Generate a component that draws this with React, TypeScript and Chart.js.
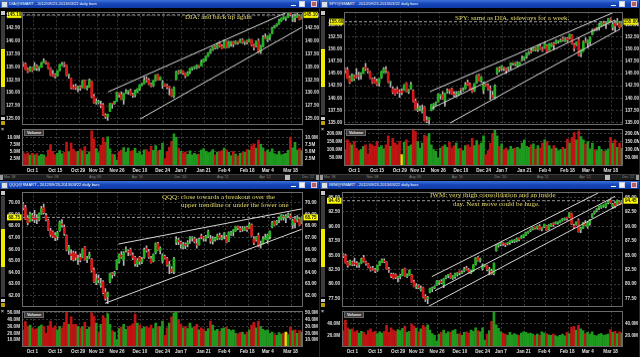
import React, { useEffect, useRef } from "react";
import { Chart, registerables } from "chart.js";

Chart.register(...registerables);

// ---------- categories (trading days) ----------
const DATES = [
  "2012-09-24","2012-09-25","2012-09-26","2012-09-27","2012-09-28",
  "2012-10-01","2012-10-02","2012-10-03","2012-10-04","2012-10-05",
  "2012-10-08","2012-10-09","2012-10-10","2012-10-11","2012-10-12",
  "2012-10-15","2012-10-16","2012-10-17","2012-10-18","2012-10-19",
  "2012-10-22","2012-10-23","2012-10-24","2012-10-25","2012-10-26",
  "2012-10-31","2012-11-01","2012-11-02",
  "2012-11-05","2012-11-06","2012-11-07","2012-11-08","2012-11-09",
  "2012-11-12","2012-11-13","2012-11-14","2012-11-15","2012-11-16",
  "2012-11-19","2012-11-20","2012-11-21","2012-11-23",
  "2012-11-26","2012-11-27","2012-11-28","2012-11-29","2012-11-30",
  "2012-12-03","2012-12-04","2012-12-05","2012-12-06","2012-12-07",
  "2012-12-10","2012-12-11","2012-12-12","2012-12-13","2012-12-14",
  "2012-12-17","2012-12-18","2012-12-19","2012-12-20","2012-12-21",
  "2012-12-24","2012-12-26","2012-12-27","2012-12-28",
  "2012-12-31","2013-01-02","2013-01-03","2013-01-04",
  "2013-01-07","2013-01-08","2013-01-09","2013-01-10","2013-01-11",
  "2013-01-14","2013-01-15","2013-01-16","2013-01-17","2013-01-18",
  "2013-01-22","2013-01-23","2013-01-24","2013-01-25",
  "2013-01-28","2013-01-29","2013-01-30","2013-01-31","2013-02-01",
  "2013-02-04","2013-02-05","2013-02-06","2013-02-07","2013-02-08",
  "2013-02-11","2013-02-12","2013-02-13","2013-02-14","2013-02-15",
  "2013-02-19","2013-02-20","2013-02-21","2013-02-22",
  "2013-02-25","2013-02-26","2013-02-27","2013-02-28","2013-03-01",
  "2013-03-04","2013-03-05","2013-03-06","2013-03-07","2013-03-08",
  "2013-03-11","2013-03-12","2013-03-13","2013-03-14","2013-03-15",
  "2013-03-18","2013-03-19","2013-03-20","2013-03-21","2013-03-22"
];

const TICK_DATES = ["2012-10-01","2012-10-15","2012-10-29","2012-11-12","2012-11-26","2012-12-10","2012-12-24","2013-01-07","2013-01-21","2013-02-04","2013-02-18","2013-03-04","2013-03-18"];
const TICK_LABELS = ["Oct 1","Oct 15","Oct 29","Nov 12","Nov 26","Dec 10","Dec 24","Jan 7","Jan 21","Feb 4","Feb 18","Mar 4","Mar 18"];
const SCROLL_LABELS = ["Mar '08","Nov '08","Aug '09","Apr '10","Dec '10","Aug '11","Apr '12","Dec '12"];

// ---------- DIA ----------
const DIA_OPEN = [135.62,135.60,134.58,134.20,134.80,134.45,135.20,134.80,135.00,135.80,136.00,135.80,134.70,133.60,133.30,133.35,134.30,135.45,135.55,135.40,133.40,132.80,131.10,131.05,130.95,131.15,131.00,132.40,130.90,131.15,132.20,129.35,128.10,128.15,127.70,127.70,125.70,125.40,126.40,127.90,127.90,128.40,129.95,129.70,128.70,130.00,130.25,130.45,129.70,129.55,130.30,130.80,131.55,131.75,132.55,132.50,131.70,131.40,132.40,133.50,132.55,131.50,131.75,131.40,131.10,130.60,129.35,132.60,134.05,133.95,134.25,133.80,133.35,134.00,134.70,134.85,134.90,135.25,135.20,136.00,136.45,137.15,137.80,138.30,138.90,138.75,139.50,139.05,138.70,139.95,138.85,139.60,139.85,139.50,139.90,139.75,140.25,139.70,139.85,139.85,140.30,139.20,139.00,140.10,137.95,138.95,140.70,140.40,140.75,141.45,142.65,142.95,143.35,143.90,144.45,144.45,144.60,145.35,144.20,144.55,144.65,144.90,144.35];
const DIA_HIGH = [135.92,135.85,134.80,135.10,134.95,135.90,135.45,135.15,135.95,136.60,136.15,135.90,134.80,134.35,133.75,134.30,135.55,135.95,135.95,135.45,133.70,132.85,131.60,131.70,131.35,131.40,132.45,132.50,131.40,132.70,132.25,129.75,128.90,128.60,128.40,128.00,126.00,125.95,128.00,128.00,128.40,130.15,130.05,130.20,129.95,130.65,130.40,130.75,130.00,130.55,130.85,131.65,131.90,133.05,133.15,132.80,131.95,132.45,133.55,133.65,133.15,132.35,131.80,131.70,131.30,130.70,131.20,134.20,134.35,134.40,134.30,133.90,134.10,134.75,134.95,135.15,135.45,135.35,136.35,136.55,137.15,137.85,138.50,139.00,139.15,139.65,139.85,139.35,140.25,140.00,140.05,139.95,140.00,140.10,140.00,140.40,140.50,140.05,140.20,140.40,140.35,139.45,140.05,140.45,139.25,141.10,141.45,141.05,141.40,142.70,143.05,143.40,144.25,144.50,144.75,144.70,145.50,145.45,145.20,145.30,145.55,145.10,145.15];
const DIA_LOW = [135.25,134.50,133.90,134.15,134.10,134.40,134.35,134.30,134.95,135.80,135.55,134.65,133.35,133.20,132.90,133.25,134.30,135.30,135.10,133.30,132.85,130.80,130.70,130.65,130.20,130.50,131.00,130.85,130.60,131.10,129.10,128.00,127.80,127.85,127.15,125.60,125.10,124.70,126.40,127.05,127.80,128.40,129.20,128.70,127.80,129.85,129.75,129.60,129.15,129.25,130.05,130.50,131.35,131.75,132.10,131.55,131.20,131.25,132.30,132.45,132.45,130.90,131.30,130.80,129.60,129.30,129.10,132.55,133.65,133.75,133.55,132.95,133.35,133.70,134.40,134.65,134.70,134.90,135.20,135.90,136.20,137.05,137.65,138.20,138.50,138.55,138.90,138.55,138.70,138.70,138.80,139.05,138.95,139.40,139.40,139.70,139.55,139.35,139.45,139.80,139.10,138.30,138.90,137.80,137.60,138.90,140.50,139.90,140.30,141.45,142.60,142.90,143.30,143.80,144.20,144.00,144.60,144.90,143.80,143.75,144.60,144.10,144.30];
const DIA_CLOSE = [135.58,134.57,134.13,134.85,134.37,135.15,134.82,134.95,135.75,136.10,135.83,134.73,133.45,133.26,133.29,134.24,135.51,135.57,135.48,133.43,133.46,131.03,130.77,131.04,131.07,130.96,132.32,130.93,131.12,132.45,129.32,128.11,128.15,128.15,127.56,125.70,125.42,125.88,127.95,127.88,128.36,130.10,129.67,128.78,129.85,130.22,130.25,129.66,129.51,130.34,130.74,131.55,131.70,132.48,132.45,131.70,131.35,132.35,133.51,132.51,133.11,131.90,131.39,131.14,130.96,129.38,131.04,134.12,133.91,134.35,133.85,133.29,133.90,134.71,134.88,135.07,135.35,135.11,135.96,136.50,137.12,137.79,138.25,138.95,138.81,139.54,139.10,138.60,140.09,138.80,139.79,139.86,139.44,139.93,139.71,140.18,139.82,139.73,139.81,140.35,139.27,138.80,140.00,137.84,139.00,140.75,140.54,140.90,141.28,142.54,142.96,143.29,143.97,144.48,144.50,144.55,145.39,145.15,144.53,144.56,145.12,144.21,145.10];
const DIA_VOLUME = [5.0,4.2,4.6,3.8,4.5,3.9,4.4,3.6,4.1,3.9,3.2,5.6,7.5,5.2,4.0,4.5,5.4,4.3,4.8,8.4,5.1,8.1,5.9,4.9,5.2,6.0,5.3,6.8,4.1,5.0,12.4,9.6,6.1,4.7,7.3,9.9,8.4,10.3,6.0,4.2,4.0,2.1,4.9,5.6,6.5,4.8,6.3,5.2,5.4,6.2,4.5,5.1,3.9,5.7,5.8,5.0,6.9,5.5,7.2,5.3,5.6,8.1,2.6,4.9,6.6,8.7,11.3,10.1,6.3,5.2,4.6,4.9,4.1,5.3,3.9,4.5,4.0,4.2,5.6,6.1,5.2,4.7,4.9,5.8,3.9,4.9,5.0,5.4,6.3,5.7,4.8,3.7,5.1,4.2,3.6,4.5,4.7,4.9,5.8,5.5,7.1,7.8,6.3,9.1,7.6,6.4,5.1,5.7,4.8,6.0,4.4,4.0,5.2,3.9,4.2,4.5,5.5,10.2,6.4,8.3,5.6,6.1,5.4];
const DIA_PRICE_TICKS = [125,127.5,130,132.5,135,137.5,140,142.5,145];
const DIA_VOLUME_TICKS = [2.5,5,7.5,10];
const DIA_TRENDS = [[37.2,130.2,115.5,145.6],[51.2,124.95,122.0,142.7]];

// ---------- SPY ----------
const SPY_OPEN = [145.95,145.75,144.20,143.50,144.40,144.60,144.50,144.70,145.10,146.30,145.60,145.30,143.90,143.85,143.40,143.00,144.20,145.30,145.70,145.30,143.10,141.90,141.70,141.80,141.20,141.50,141.60,143.10,141.30,141.90,141.50,139.40,137.60,137.90,137.20,138.10,135.50,135.60,137.50,138.50,138.80,139.20,140.50,140.70,139.40,141.30,141.60,141.90,140.80,140.70,140.80,141.80,141.55,141.90,143.20,142.80,141.80,141.40,143.10,144.60,143.50,141.60,142.60,142.60,141.80,140.60,140.20,145.10,146.00,146.00,146.20,145.90,146.00,146.60,147.00,147.00,146.60,146.90,147.80,148.00,148.50,149.10,149.40,149.70,150.10,149.80,150.60,150.00,150.30,150.70,149.80,150.60,151.10,151.20,151.50,151.50,152.20,151.60,152.20,152.30,152.90,150.90,150.90,152.00,149.10,149.60,151.50,151.20,151.50,153.00,154.10,154.10,154.60,154.90,155.30,155.10,155.50,156.10,154.40,155.30,155.40,155.30,154.70];
const SPY_HIGH = [146.10,146.30,144.50,144.95,144.70,146.00,145.30,145.20,146.20,147.10,146.00,145.45,144.10,144.30,143.90,144.00,145.50,146.20,146.45,145.40,143.45,142.25,141.90,142.20,141.70,141.90,142.75,143.20,141.80,143.25,141.70,139.85,138.90,138.40,138.60,138.30,136.20,136.00,138.70,138.90,139.20,140.90,140.70,141.30,141.00,141.90,141.80,142.05,141.30,141.30,141.40,142.00,142.10,143.20,143.70,143.10,142.10,143.00,144.70,144.90,144.40,143.30,142.90,142.90,142.50,141.40,142.70,146.20,146.40,146.65,146.40,146.10,146.40,147.20,147.20,147.30,147.40,147.30,148.60,148.50,149.20,149.60,150.10,150.30,150.30,150.70,151.00,150.40,151.50,150.90,151.20,151.30,151.40,151.90,151.80,152.10,152.50,152.30,152.40,153.10,153.00,151.20,151.50,152.30,149.80,151.70,152.30,151.90,152.50,154.10,154.20,154.50,155.30,155.60,155.70,155.50,156.30,156.40,155.50,155.80,156.30,155.60,155.70];
const SPY_LOW = [145.20,144.00,142.95,143.40,143.60,144.10,143.75,143.90,145.00,145.65,145.10,143.95,142.95,143.05,142.60,142.45,144.00,145.10,145.20,143.10,142.25,140.90,140.60,140.95,140.10,140.70,141.50,141.25,140.90,141.75,139.20,137.55,137.25,137.40,136.90,135.30,134.95,134.30,137.40,137.70,138.50,139.20,139.75,139.70,138.30,141.00,140.90,140.75,140.30,140.20,140.50,141.00,141.40,141.80,142.60,141.70,141.10,141.30,143.00,143.40,143.20,140.90,142.45,141.60,139.70,140.10,139.80,144.80,145.40,145.60,145.60,145.00,145.60,145.90,146.70,146.60,146.40,146.80,147.60,147.70,148.10,148.90,149.20,149.60,149.60,149.50,149.90,149.50,150.20,149.40,149.70,150.50,149.90,151.10,151.20,151.40,151.60,151.50,151.50,152.10,151.00,149.60,150.70,148.60,148.40,149.50,151.30,150.30,150.90,152.90,153.70,153.80,153.90,154.70,154.90,154.20,155.40,155.60,153.90,153.70,154.90,154.30,154.60];
const SPY_CLOSE = [145.58,144.06,143.23,144.62,143.97,144.35,144.48,145.00,146.04,146.00,145.49,144.05,143.16,143.18,142.76,143.91,145.39,145.99,145.63,143.22,143.28,141.21,140.78,141.20,141.09,141.12,142.66,141.32,141.63,142.74,139.35,137.65,137.89,137.90,137.35,135.45,135.23,135.89,138.59,138.68,139.00,140.82,140.53,139.79,140.89,141.50,141.52,140.85,140.61,140.83,141.29,141.71,141.76,142.68,142.75,141.85,141.26,142.94,144.58,143.48,144.27,142.92,142.57,141.88,141.71,140.14,142.52,146.14,145.84,146.55,146.09,145.62,146.00,147.11,147.11,146.97,147.13,147.16,147.99,148.50,149.16,149.38,149.38,150.20,149.92,150.68,150.10,149.71,151.22,149.47,151.03,151.11,150.84,151.69,151.60,151.84,151.93,152.04,151.88,152.99,151.10,150.14,151.46,148.69,149.59,151.50,151.37,151.72,152.42,153.88,154.05,154.33,155.02,155.52,155.15,155.35,156.22,155.97,155.11,154.73,155.77,154.48,155.60];
const SPY_VOLUME = [100,160,140,130,150,110,95,100,120,130,75,135,130,120,150,115,125,105,130,185,120,170,140,130,150,70,145,160,120,130,230,210,150,110,140,190,180,200,130,100,90,50,110,120,130,115,145,110,125,140,105,110,95,125,130,115,170,125,155,130,140,185,70,95,140,200,225,185,120,135,100,110,95,120,105,110,115,105,140,160,120,115,130,135,105,125,110,140,160,150,125,105,125,110,95,100,115,105,165,140,175,205,160,215,180,160,135,150,105,140,100,95,120,100,90,95,105,175,140,160,115,140,110];
const SPY_PRICE_TICKS = [135,137.5,140,142.5,145,147.5,150,152.5,155];
const SPY_VOLUME_TICKS = [50,100,150,200];
const SPY_TRENDS = [[37.4,141.3,118.3,157.5],[38.2,137.9,119.0,155.95],[46.3,134.9,121.2,154.1]];

// ---------- QQQ ----------
const QQQ_OPEN = [69.90,69.60,68.70,68.40,68.90,68.80,68.70,68.55,69.10,69.60,68.90,68.50,67.60,67.50,67.20,67.10,67.60,68.20,67.90,67.20,65.90,65.60,65.70,65.60,65.10,65.30,65.30,66.20,65.10,65.40,65.10,64.20,63.10,63.50,62.90,63.20,62.30,61.90,63.20,63.90,63.85,64.30,64.90,65.50,65.10,65.90,65.80,66.00,65.50,65.30,64.70,65.30,64.90,65.30,66.10,65.80,65.20,65.00,65.70,66.50,65.90,65.00,65.40,65.20,64.60,64.30,64.10,66.60,66.80,66.60,66.20,66.40,66.45,66.90,66.95,66.90,66.50,66.40,67.10,67.00,66.90,67.10,66.90,66.70,66.85,66.90,67.20,66.90,67.20,67.10,66.70,67.30,67.50,67.60,67.90,67.80,67.70,67.65,67.90,67.85,68.10,66.90,66.80,67.20,66.40,66.50,66.90,66.80,67.10,67.90,68.40,68.20,68.55,68.60,68.80,68.70,68.90,68.90,68.10,68.60,68.50,68.60,68.25];
const QQQ_HIGH = [70.05,69.80,68.90,69.20,69.10,69.35,69.00,69.15,69.70,69.90,69.10,68.60,67.80,67.60,67.45,67.55,68.45,68.55,68.10,67.25,66.35,65.95,65.85,65.80,65.50,65.60,66.05,66.25,65.40,65.75,65.20,64.40,63.85,63.80,63.50,63.30,62.60,62.30,63.95,64.00,64.10,65.10,65.60,65.80,65.80,66.20,65.95,66.10,65.70,65.40,65.20,65.40,65.30,66.10,66.30,66.00,65.40,65.60,66.55,66.60,66.20,65.60,65.50,65.30,64.95,64.50,65.30,67.10,66.95,66.70,66.60,66.55,66.75,67.10,67.10,67.05,66.90,66.95,67.30,67.10,67.20,67.65,67.20,67.10,67.05,67.30,67.40,67.20,67.45,67.20,67.50,67.55,67.70,68.00,68.00,67.95,67.95,67.95,68.00,68.30,68.20,67.10,67.10,67.40,66.70,67.10,67.30,67.30,67.60,68.40,68.45,68.50,68.80,69.00,68.95,69.00,69.15,69.05,68.60,68.85,68.90,68.70,68.80];
const QQQ_LOW = [69.40,68.55,68.10,68.35,68.45,68.30,68.20,68.45,69.00,69.05,68.45,67.60,67.10,67.00,66.75,66.80,67.55,67.90,67.20,65.85,65.55,65.10,65.00,65.05,64.70,64.90,65.25,65.05,64.85,65.20,64.05,63.15,62.95,63.10,62.70,62.15,61.60,61.30,63.10,63.50,63.70,64.25,64.80,65.20,64.60,65.75,65.45,65.50,65.10,64.55,64.50,64.70,64.75,65.20,65.75,65.20,64.80,64.90,65.60,65.90,65.60,64.80,65.15,64.55,63.90,63.95,63.90,66.40,66.40,66.10,66.05,66.05,66.20,66.50,66.70,66.55,66.10,66.35,66.90,66.70,66.70,67.00,66.50,66.45,66.70,66.80,66.85,66.80,66.90,66.55,66.65,67.20,67.15,67.55,67.70,67.50,67.55,67.60,67.55,67.80,67.10,66.40,66.70,66.20,66.10,66.45,66.85,66.50,66.90,67.85,68.05,68.10,68.30,68.50,68.50,68.30,68.75,68.60,67.80,67.85,68.35,68.05,68.20];
const QQQ_CLOSE = [69.55,68.60,68.30,69.05,68.62,68.55,68.60,69.05,69.50,69.15,68.55,67.65,67.25,67.10,67.00,67.45,68.35,68.10,67.35,65.95,66.20,65.45,65.10,65.30,65.20,65.05,66.00,65.10,65.25,65.55,64.15,63.20,63.45,63.35,63.05,62.25,61.75,62.25,63.90,63.80,64.00,65.05,65.55,65.35,65.70,65.95,65.75,65.55,65.25,64.75,65.05,64.95,65.15,65.95,65.90,65.35,64.85,65.55,66.50,65.95,66.10,65.45,65.20,64.65,64.60,64.10,65.20,66.85,66.65,66.45,66.40,66.35,66.55,66.90,66.95,66.65,66.35,66.85,67.05,66.95,67.10,67.55,66.70,66.90,66.95,67.20,66.95,67.00,67.35,66.60,67.45,67.45,67.50,67.95,67.85,67.60,67.75,67.85,67.70,68.15,67.15,66.55,67.05,66.25,66.50,66.90,66.95,67.20,67.55,68.30,68.15,68.40,68.65,68.95,68.75,68.85,68.95,68.70,68.45,68.30,68.70,68.10,68.75];
const QQQ_VOLUME = [25,37,30,32,28,26,27,30,32,30,20,31,38,28,31,25,30,28,36,52,33,44,33,33,30,28,30,36,26,29,50,45,35,22,33,46,42,49,33,24,22,11,27,29,33,26,30,31,34,48,35,32,27,29,30,28,32,27,35,30,30,38,17,28,35,44,50,51,40,33,28,30,27,35,28,30,33,25,28,26,23,27,38,32,24,26,23,27,28,29,26,24,25,20,19,21,22,18,22,25,32,36,28,38,30,26,24,25,20,22,18,17,21,19,20,22,18,29,24,25,20,24,22];
const QQQ_PRICE_TICKS = [62,63,64,65,66,67,68,69,70];
const QQQ_VOLUME_TICKS = [10,20,30,40,50];
const QQQ_TRENDS = [[41.7,66.45,121.9,69.48],[35.8,61.34,121.9,67.72]];

// ---------- IWM ----------
const IWM_OPEN = [85.10,84.95,83.80,83.40,83.80,83.70,83.60,83.35,83.70,84.60,83.80,83.50,82.80,82.70,82.50,82.40,83.30,83.80,84.00,83.80,82.60,81.70,81.70,81.60,81.10,81.30,81.50,82.70,81.30,81.60,81.60,80.40,79.50,79.70,79.00,79.40,77.90,77.50,78.60,79.20,79.40,79.80,80.30,80.50,79.90,81.10,81.50,81.80,81.00,81.30,81.70,82.20,81.90,82.30,82.80,82.50,82.00,82.30,83.40,84.60,84.10,82.70,83.10,83.20,82.40,82.20,81.80,85.80,86.70,86.90,87.00,86.90,87.00,87.20,87.50,87.40,87.50,87.80,88.00,88.20,88.50,88.90,89.20,89.50,89.80,89.70,90.00,89.50,89.90,90.10,89.50,90.10,90.50,90.50,90.60,90.70,91.10,91.20,91.50,91.60,92.20,90.10,90.30,91.10,89.40,89.70,90.60,90.00,90.60,91.60,92.30,92.70,93.20,93.30,93.50,93.40,94.10,94.50,93.40,94.00,93.80,94.20,94.00];
const IWM_HIGH = [85.30,85.20,84.00,84.15,84.00,84.50,83.90,83.70,84.50,85.00,84.00,83.60,83.00,83.10,82.75,83.30,84.00,84.40,84.40,83.90,82.90,81.90,81.90,81.80,81.40,81.70,82.60,82.80,81.80,82.50,81.70,80.70,80.10,79.90,79.70,79.50,78.20,77.90,79.30,79.50,79.70,80.60,80.60,80.80,81.00,81.50,81.70,81.90,81.50,81.90,82.00,82.30,82.30,82.90,83.10,82.70,82.40,83.40,84.60,84.80,84.50,83.50,83.30,83.30,82.90,82.60,83.70,86.80,87.00,87.30,87.20,87.10,87.20,87.50,87.60,87.70,88.00,88.00,88.40,88.60,89.00,89.20,89.60,89.90,89.90,90.10,90.30,89.80,90.40,90.20,90.30,90.50,90.60,90.80,90.80,91.10,91.40,91.50,91.60,92.40,92.30,90.40,90.80,91.30,89.90,90.70,91.00,90.70,91.20,92.20,92.70,93.10,93.50,93.70,93.80,94.10,94.50,94.70,94.00,94.30,94.60,94.40,94.50];
const IWM_LOW = [84.60,83.65,82.95,83.30,83.20,83.20,82.90,82.90,83.60,83.80,83.30,82.80,82.25,82.40,82.00,82.20,83.20,83.70,83.70,82.60,82.05,81.10,80.90,80.95,80.40,80.90,81.45,81.35,81.10,81.50,80.30,79.50,79.20,79.20,78.80,77.70,77.00,76.60,78.50,78.70,79.20,79.75,79.90,80.10,79.40,80.90,81.10,81.00,80.80,81.00,81.40,81.60,81.80,82.10,82.40,81.90,81.80,82.20,83.30,84.00,83.80,82.40,83.00,82.30,81.60,81.70,81.60,85.70,86.40,86.60,86.70,86.50,86.80,86.90,87.20,87.20,87.30,87.50,87.90,88.00,88.40,88.80,89.10,89.40,89.50,89.50,89.40,89.20,89.80,89.30,89.40,90.00,90.00,90.40,90.40,90.60,90.90,91.10,91.10,91.50,90.30,89.60,90.20,89.00,88.90,89.60,90.10,89.70,90.20,91.50,92.10,92.50,92.90,93.10,93.30,93.20,93.90,94.00,93.10,93.20,93.70,93.70,93.90];
const IWM_CLOSE = [84.90,83.70,83.20,84.00,83.40,83.50,83.30,83.55,84.40,84.00,83.60,82.90,82.40,82.60,82.30,83.20,83.90,84.20,83.90,82.70,82.45,81.40,81.00,81.20,81.10,81.35,82.50,81.40,81.55,82.30,80.40,79.55,79.70,79.45,79.25,77.80,77.40,77.70,79.25,79.35,79.60,80.55,80.40,80.25,80.90,81.35,81.60,81.10,81.30,81.80,81.90,82.00,82.10,82.60,82.55,82.05,82.20,83.30,84.55,84.10,84.40,83.20,83.10,82.50,82.45,81.80,83.60,86.70,86.80,87.25,86.95,86.85,87.00,87.40,87.50,87.60,87.95,87.75,88.15,88.55,88.95,89.15,89.40,89.85,89.70,90.05,89.45,89.55,90.35,89.35,90.25,90.45,90.30,90.70,90.60,91.05,91.30,91.35,91.40,92.30,90.40,89.85,90.75,89.10,89.65,90.60,90.20,90.60,91.10,92.10,92.60,93.00,93.40,93.65,93.60,94.00,94.40,94.10,93.85,93.55,94.50,93.80,94.45];
const IWM_VOLUME = [28,46,33,30,31,26,28,24,27,25,21,28,31,25,27,23,26,24,27,37,25,33,29,27,30,28,32,36,25,27,39,36,32,26,31,37,34,38,29,23,20,10,22,25,29,23,26,25,28,30,22,23,20,25,26,24,29,27,33,28,26,33,12,22,28,44,60,38,32,26,24,22,20,25,21,23,21,20,24,26,25,23,24,22,19,22,20,26,24,23,21,20,22,19,18,20,22,19,25,23,34,35,29,37,31,28,23,25,22,26,20,19,22,23,20,21,22,30,25,27,23,26,24];
const IWM_PRICE_TICKS = [77.5,80,82.5,85,87.5,90,92.5,95];
const IWM_VOLUME_TICKS = [20,40];
const IWM_TRENDS = [[38.8,81.3,111.7,95.8],[40.2,78.86,119.0,95.2],[37.3,76.14,121.9,94.0]];

// ---------- styling ----------
const GRID = "#3a3a3a";
const LABEL = "#e0e0e0";
const UP = "#20b020";
const DOWN = "#d81818";
const VOL_UP = "#1e9a1e";
const VOL_DOWN = "#c01414";
const TICK_FONT = { family: "'Liberation Sans', Arial, sans-serif", size: 4.6, weight: "bold" as const };

const framePlugin = {
  id: "frame",
  afterDraw(chart: any) {
    const { ctx, chartArea: a } = chart;
    ctx.save();
    ctx.strokeStyle = "#6a6a6a";
    ctx.lineWidth = 1;
    ctx.strokeRect(Math.round(a.left) + 0.5, Math.round(a.top) + 0.5, Math.round(a.right - a.left) - 1, Math.round(a.bottom - a.top) - 1);
    ctx.restore();
  },
};

const lastPricePlugin = {
  id: "lastPrice",
  afterDraw(chart: any, _args: any, opts: any) {
    if (!opts || opts.value == null) return;
    const ctx = chart.ctx;
    const y = chart.scales.y.getPixelForValue(opts.value);
    ctx.save();
    ctx.font = "bold 4.6px 'Liberation Sans', Arial, sans-serif";
    ctx.textBaseline = "middle";
    ctx.textAlign = "center";
    const boxes = [chart.scales.y.right - 15, chart.scales.y2.left + 0.5];
    for (const bx of boxes) {
      ctx.fillStyle = "#ffff00";
      ctx.fillRect(bx, y - 3, 14.5, 6);
      ctx.fillStyle = "#202000";
      ctx.fillText(opts.text, bx + 7.25, y + 0.3);
    }
    ctx.restore();
  },
};

type Note = { text: string; x: number; y: number };
type PanelCfg = {
  title: string;
  left: number; top: number; height: number;
  plotLeft: number;
  priceTop: number; priceBottom: number; volTop: number; volBottom: number;
  open: number[]; high: number[]; low: number[]; close: number[]; volume: number[];
  priceMin: number; priceMax: number; priceTicks: number[];
  volMax: number; volTicks: number[];
  trends: number[][];
  yellowVol: number[];
  notes: Note[];
  scroll: boolean;
};

const PLOT_RIGHT = 303;
const PANEL_W = 320;

function Panel({ cfg }: { cfg: PanelCfg }) {
  const priceRef = useRef<HTMLCanvasElement>(null);
  const volRef = useRef<HTMLCanvasElement>(null);

  const priceCanvasTop = cfg.priceTop - 4;
  const priceCanvasH = cfg.priceBottom - cfg.priceTop + 8;
  const XAXIS_H = 9;
  const volCanvasTop = cfg.volTop - 4;
  const volCanvasH = cfg.volBottom - cfg.volTop + 4 + XAXIS_H;

  useEffect(() => {
    const n = DATES.length;
    const idx = DATES.map((_, i) => i);
    const up = idx.map((i) => cfg.close[i] >= cfg.open[i]);
    const last = cfg.close[n - 1];
    const tickPos = TICK_DATES.map((d) => DATES.findIndex((x) => x >= d) - 0.5);
    const setTicks = (vals: number[]) => (s: any) => {
      s.ticks = vals.map((v) => ({ value: v }));
    };

    const xBase = (showLabels: boolean) => ({
      type: "linear" as const,
      min: -0.5,
      max: n - 0.5,
      offset: false,
      afterBuildTicks: setTicks(tickPos),
      grid: { color: GRID, drawTicks: false, offset: false, lineWidth: 1 },
      border: { display: false, dash: [2, 2] },
      ticks: {
        display: showLabels,
        autoSkip: false,
        maxRotation: 0,
        padding: 1.5,
        labelOffset: -1,
        color: LABEL,
        font: TICK_FONT,
        callback: (_v: any, i: number) => TICK_LABELS[i],
      },
      afterFit: (s: any) => {
        s.height = showLabels ? XAXIS_H : 0;
      },
    });

    const yBase = (min: number, max: number, ticks: number[], fmt: (v: number) => string, side: "left" | "right") => ({
      type: "linear" as const,
      position: side,
      min,
      max,
      afterBuildTicks: setTicks(ticks),
      grid: { display: side === "left", color: GRID, drawTicks: false },
      border: { display: false, dash: [2, 2] },
      ticks: { color: LABEL, font: TICK_FONT, padding: 2, callback: (v: any) => fmt(Number(v)) },
      afterFit: (s: any) => {
        s.width = side === "left" ? cfg.plotLeft : PANEL_W - PLOT_RIGHT;
      },
    });

    const trendSets = cfg.trends.map((t) => ({
      type: "line" as const,
      data: [{ x: t[0], y: t[1] }, { x: t[2], y: t[3] }],
      borderColor: "#d4d4d4",
      borderWidth: 1,
      pointRadius: 0,
      fill: false,
      order: 0,
    }));

    const priceChart = new Chart(priceRef.current as HTMLCanvasElement, {
      type: "bar",
      data: {
        datasets: [
          ...trendSets,
          {
            type: "line" as const,
            data: [{ x: -0.5, y: last }, { x: n - 0.5, y: last }],
            borderColor: "#9a9a9a",
            borderDash: [3, 2],
            borderWidth: 1,
            pointRadius: 0,
            fill: false,
            order: 1,
          },
          {
            type: "bar" as const,
            data: idx.map((i) => ({ x: i, y: [cfg.open[i], cfg.close[i]] })),
            backgroundColor: idx.map((i) => (up[i] ? UP : DOWN)),
            barThickness: 2,
            minBarLength: 1,
            grouped: false,
            order: 2,
          },
          {
            type: "bar" as const,
            data: idx.map((i) => ({ x: i, y: [cfg.low[i], cfg.high[i]] })),
            backgroundColor: "#b4b4b4",
            barThickness: 1,
            grouped: false,
            order: 3,
          },
        ] as any,
      },
      options: {
        responsive: false,
        maintainAspectRatio: false,
        animation: false,
        events: [],
        layout: { padding: { top: 4, bottom: 4, left: 0, right: 0 } },
        plugins: {
          legend: { display: false },
          tooltip: { enabled: false },
          lastPrice: { value: last, text: last.toFixed(2) },
        } as any,
        scales: {
          x: xBase(false),
          y: yBase(cfg.priceMin, cfg.priceMax, cfg.priceTicks, (v) => v.toFixed(2), "left"),
          y2: yBase(cfg.priceMin, cfg.priceMax, cfg.priceTicks, (v) => v.toFixed(2), "right"),
        } as any,
      },
      plugins: [framePlugin, lastPricePlugin],
    });

    const volChart = new Chart(volRef.current as HTMLCanvasElement, {
      type: "bar",
      data: {
        datasets: [
          {
            data: idx.map((i) => ({ x: i, y: cfg.volume[i] })),
            backgroundColor: idx.map((i) =>
              cfg.yellowVol.includes(i) ? "#e8e000" : up[i] ? VOL_UP : VOL_DOWN
            ),
            barThickness: 2,
            grouped: false,
          },
        ] as any,
      },
      options: {
        responsive: false,
        maintainAspectRatio: false,
        animation: false,
        events: [],
        layout: { padding: { top: 4, bottom: 0, left: 0, right: 0 } },
        plugins: { legend: { display: false }, tooltip: { enabled: false } },
        scales: {
          x: xBase(true),
          y: yBase(0, cfg.volMax, cfg.volTicks, (v) => v.toFixed(1) + "M", "left"),
          y2: yBase(0, cfg.volMax, cfg.volTicks, (v) => v.toFixed(1) + "M", "right"),
        } as any,
      },
      plugins: [framePlugin],
    });

    return () => {
      priceChart.destroy();
      volChart.destroy();
    };
  }, [cfg]);

  const titleTop = cfg.scroll ? 0 : 1;
  return (
    <div
      style={{
        position: "absolute",
        left: cfg.left,
        top: cfg.top,
        width: PANEL_W,
        height: cfg.height,
        background: "#000",
        overflow: "hidden",
      }}
    >
      {/* title bar */}
      <div
        style={{
          position: "absolute",
          left: 0,
          top: titleTop,
          width: PANEL_W,
          height: 8,
          background: "linear-gradient(180deg,#3d73dc 0%,#1747b8 45%,#0e3aa6 100%)",
        }}
      >
        <div style={{ position: "absolute", left: 1, top: 1, width: 5, height: 5, background: "#d8e0e8", border: "0.5px solid #5a6a80" }} />
        <div
          style={{
            position: "absolute",
            left: 9,
            top: 0,
            height: 8,
            lineHeight: "8px",
            fontFamily: "'Liberation Sans', Arial, sans-serif",
            fontSize: 4,
            color: "#ffffff",
            whiteSpace: "nowrap",
          }}
        >
          {cfg.title}
        </div>
        <div style={{ position: "absolute", left: 291, top: 5, width: 5, height: 1, background: "#ffffff" }} />
        <div style={{ position: "absolute", left: 299, top: 1, width: 6, height: 6, background: "#f4f4f4", boxSizing: "border-box", border: "1px solid #c8d4ec" }} />
        <div style={{ position: "absolute", left: 311, top: 1, width: 6, height: 6, background: "#b06060", boxSizing: "border-box", border: "1px solid #e8c8c8" }} />
      </div>

      {/* left control strip */}
      <div style={{ position: "absolute", left: 1, top: cfg.priceTop, width: 4, height: 4, background: "#c8c8c8" }} />
      <div style={{ position: "absolute", left: 1, top: cfg.priceTop + 5, width: 4, height: cfg.priceBottom - cfg.priceTop - 16, background: "#3c3c3c" }} />
      <div style={{ position: "absolute", left: 1, top: cfg.priceTop + 38, width: 4, height: 38, background: "#f0ec00" }} />
      <div style={{ position: "absolute", left: 1, top: cfg.priceBottom - 9, width: 4, height: 3, background: "#c8c8c8" }} />
      <div style={{ position: "absolute", left: 1, top: cfg.priceBottom - 5, width: 4, height: 4, background: "#c0a000" }} />
      <div
        style={{
          position: "absolute",
          left: 1,
          top: cfg.priceBottom + 1,
          fontFamily: "'Liberation Sans', Arial, sans-serif",
          fontSize: 5,
          lineHeight: "5px",
          color: "#d0d0d0",
          fontWeight: "bold",
        }}
      >
        ×
      </div>

      <canvas
        ref={priceRef}
        width={PANEL_W}
        height={priceCanvasH}
        style={{ position: "absolute", left: 0, top: priceCanvasTop, width: PANEL_W, height: priceCanvasH }}
      />
      <canvas
        ref={volRef}
        width={PANEL_W}
        height={volCanvasH}
        style={{ position: "absolute", left: 0, top: volCanvasTop, width: PANEL_W, height: volCanvasH }}
      />

      {/* Volume caption */}
      <div
        style={{
          position: "absolute",
          left: cfg.plotLeft + 2,
          top: cfg.volTop + 1,
          height: 5,
          lineHeight: "5px",
          padding: "0 2px",
          background: "#3a3a3a",
          border: "0.5px solid #6a6a6a",
          fontFamily: "'Liberation Sans', Arial, sans-serif",
          fontSize: 4,
          fontWeight: "bold",
          color: "#f0f0f0",
        }}
      >
        Volume
      </div>

      {/* annotations */}
      {cfg.notes.map((nt, i) => (
        <div
          key={i}
          style={{
            position: "absolute",
            left: nt.x,
            top: nt.y - 4,
            height: 8,
            lineHeight: "8px",
            fontFamily: "'Liberation Serif', 'Times New Roman', serif",
            fontSize: 7,
            color: "#e6dc6a",
            whiteSpace: "nowrap",
          }}
        >
          {nt.text}
        </div>
      ))}

      {/* bottom scroll bar */}
      {cfg.scroll && (
        <div
          style={{
            position: "absolute",
            left: 0,
            top: 174,
            width: PANEL_W,
            height: 6,
            background: "#1c1c1c",
            borderTop: "1px solid #3a3a3a",
            boxSizing: "border-box",
          }}
        >
          <div style={{ position: "absolute", left: 0, top: 0, width: 3, height: 5, background: "#9a9a9a" }} />
          {SCROLL_LABELS.map((s, i) => (
            <div
              key={s}
              style={{
                position: "absolute",
                left: 4 + i * 42.6,
                top: 0,
                lineHeight: "5px",
                fontFamily: "'Liberation Sans', Arial, sans-serif",
                fontSize: 3.5,
                color: "#8a8a8a",
                whiteSpace: "nowrap",
              }}
            >
              {s}
            </div>
          ))}
          <div style={{ position: "absolute", left: 285, top: 0, width: 5, height: 5, background: "#bdbdbd" }} />
          <div style={{ position: "absolute", left: 316, top: 0, width: 4, height: 5, background: "#9a9a9a" }} />
        </div>
      )}
      <div style={{ position: "absolute", left: PANEL_W - 1, top: 0, width: 1, height: cfg.height, background: "#2a2a2a" }} />
    </div>
  );
}

const TOP = { top: 0, height: 180, priceTop: 11, priceBottom: 125.5, volTop: 127.5, volBottom: 166, scroll: true };
const BOTTOM = { top: 180, height: 177, priceTop: 11, priceBottom: 128, volTop: 130, volBottom: 167, scroll: false };

const PANELS: PanelCfg[] = [
  {
    ...TOP, left: 0, plotLeft: 22,
    title: "DIA@SMART - 2012/09/23-2013/03/22 daily bars",
    open: DIA_OPEN, high: DIA_HIGH, low: DIA_LOW, close: DIA_CLOSE, volume: DIA_VOLUME,
    priceMin: 123.75, priceMax: 145.7, priceTicks: DIA_PRICE_TICKS,
    volMax: 13.1, volTicks: DIA_VOLUME_TICKS,
    trends: DIA_TRENDS, yellowVol: [],
    notes: [{ text: "DIA: and back up again", x: 185, y: 17 }],
  },
  {
    ...TOP, left: 320, plotLeft: 24,
    title: "SPY@SMART - 2012/09/23-2013/03/22 daily bars",
    open: SPY_OPEN, high: SPY_HIGH, low: SPY_LOW, close: SPY_CLOSE, volume: SPY_VOLUME,
    priceMin: 134.43, priceMax: 157.64, priceTicks: SPY_PRICE_TICKS,
    volMax: 228, volTicks: SPY_VOLUME_TICKS,
    trends: SPY_TRENDS, yellowVol: [25],
    notes: [{ text: "SPY: same as DIA, sideways for a week.", x: 135, y: 18 }],
  },
  {
    ...BOTTOM, left: 0, plotLeft: 22,
    title: "QQQ@SMART - 2012/09/23-2013/03/22 daily bars",
    open: QQQ_OPEN, high: QQQ_HIGH, low: QQQ_LOW, close: QQQ_CLOSE, volume: QQQ_VOLUME,
    priceMin: 61.0, priceMax: 70.96, priceTicks: QQQ_PRICE_TICKS,
    volMax: 53, volTicks: QQQ_VOLUME_TICKS,
    trends: QQQ_TRENDS, yellowVol: [115],
    notes: [
      { text: "QQQ: close towards a breakout over the", x: 162, y: 17 },
      { text: "upper trendline or under the lower one", x: 181, y: 24.7 },
    ],
  },
  {
    ...BOTTOM, left: 320, plotLeft: 22,
    title: "IWM@SMART - 2012/09/23-2013/03/22 daily bars",
    open: IWM_OPEN, high: IWM_HIGH, low: IWM_LOW, close: IWM_CLOSE, volume: IWM_VOLUME,
    priceMin: 76.0, priceMax: 96.0, priceTicks: IWM_PRICE_TICKS,
    volMax: 62, volTicks: IWM_VOLUME_TICKS,
    trends: IWM_TRENDS, yellowVol: [],
    notes: [
      { text: "IWM: very thigh consolidation and an inside", x: 110, y: 15.3 },
      { text: "day. Next move could be huge.", x: 133, y: 24 },
    ],
  },
];

export default function App() {
  return (
    <div style={{ position: "fixed", left: 0, top: 0, width: 640, height: 357, background: "#000", overflow: "hidden" }}>
      {PANELS.map((p) => (
        <Panel key={p.title} cfg={p} />
      ))}
    </div>
  );
}
